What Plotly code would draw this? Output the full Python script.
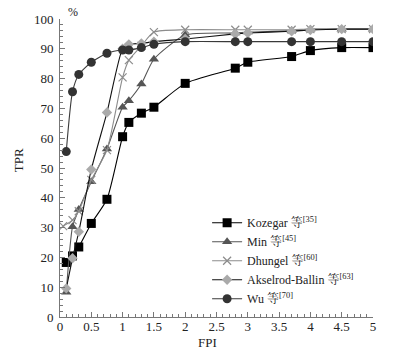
import plotly.graph_objects as go

fpi = [0.1, 0.2, 0.3, 0.5, 0.75, 1.0, 1.1, 1.3, 1.5, 2.0, 2.8, 3.0, 3.7, 4.0, 4.5, 5.0]
fpi_dhungel = [0.05, 0.2, 0.3, 0.5, 0.75, 1.0, 1.1, 1.3, 1.5, 2.0, 2.8, 3.0, 3.7, 4.0, 4.5, 5.0]

kozegar = [18.3, 20.5, 23.5, 31.4, 39.5, 60.5, 65.3, 68.4, 70.4, 78.4, 83.5, 85.5, 87.4, 89.4, 90.4, 90.4]
min_ = [8.3, 30.3, 36.1, 45.4, 56.4, 70.4, 72.6, 78.2, 86.5, 94.6, 95.3, 95.6, 96.1, 96.6, 96.6, 96.6]
dhungel = [30.5, 32.5, 35.5, 46.0, 56.0, 80.4, 86.2, 91.0, 95.6, 96.4, 96.4, 96.4, 96.4, 96.6, 96.6, 96.6]
akselrod = [9.6, 19.7, 28.6, 49.5, 68.6, 90.0, 91.5, 91.8, 92.4, 93.3, 95.0, 95.3, 95.9, 96.3, 96.6, 96.6]
wu = [55.5, 75.6, 81.4, 85.5, 88.5, 89.6, 89.6, 90.4, 91.5, 92.4, 92.4, 92.4, 92.4, 92.4, 92.4, 92.4]

names = ["Kozegar 等<sup>[35]</sup>", "Min 等<sup>[45]</sup>", "Dhungel 等<sup>[60]</sup>",
         "Akselrod-Ballin 等<sup>[63]</sup>", "Wu 等<sup>[70]</sup>"]

FONT = "Liberation Serif, Noto Serif CJK SC, Noto Sans CJK SC, serif"

fig = go.Figure()
specs = [
    (fpi, kozegar, names[0], "#000000", "#000000", "square", 9),
    (fpi, min_, names[1], "#555555", "#555555", "triangle-up", 9),
    (fpi_dhungel, dhungel, names[2], "#8c8c8c", "#8c8c8c", "x-thin", 8),
    (fpi, akselrod, names[3], "#111111", "#aaaaaa", "diamond", 8),
    (fpi, wu, names[4], "#3a3a3a", "#333333", "circle", 9),
]
for xs, ys, nm, lc, mc, sym, sz in specs:
    marker = dict(symbol=sym, size=sz, color=mc)
    if sym == "x-thin":
        marker["line"] = dict(color=mc, width=1.2)
    fig.add_trace(go.Scatter(
        x=xs, y=ys, name=nm, mode="lines+markers",
        line=dict(color=lc, width=1.1, shape="spline", smoothing=0.6),
        marker=marker,
    ))

axis_common = dict(
    showline=True, linecolor="#777777", linewidth=1,
    ticks="inside", ticklen=5, tickcolor="#777777",
    showgrid=False, zeroline=False,
    tickfont=dict(family=FONT, size=13, color="#222222"),
)
fig.update_xaxes(range=[0, 5], dtick=0.5, tick0=0, ticklabelstandoff=-3,
                 minor=dict(dtick=0.1, ticks="inside", ticklen=3, tickcolor="#777777"),
                 **axis_common)
fig.update_yaxes(range=[0, 100], dtick=10, tick0=0, ticklabelstandoff=3,
                 minor=dict(dtick=2, ticks="inside", ticklen=3, tickcolor="#777777"),
                 **axis_common)

fig.update_layout(
    width=396, height=351,
    margin=dict(l=60, r=23, t=19, b=34),
    paper_bgcolor="white", plot_bgcolor="white",
    font=dict(family=FONT, size=13, color="#222222"),
    legend=dict(x=0.47, y=0.365, xanchor="left", yanchor="top",
                bgcolor="rgba(0,0,0,0)", itemwidth=30,
                font=dict(family=FONT, size=12, color="#222222"),
                tracegroupgap=0),
    annotations=[
        dict(text="%", x=0.04, y=1.025, xref="paper", yref="paper", showarrow=False,
             xanchor="center", yanchor="middle",
             font=dict(family=FONT, size=12, color="#222222")),
        dict(text="TPR", x=-0.13, y=0.527, xref="paper", yref="paper", showarrow=False,
             xanchor="center", yanchor="middle",
             textangle=-90, font=dict(family=FONT, size=13, color="#222222")),
        dict(text="FPI", x=0.47, y=-0.084, xref="paper", yref="paper", showarrow=False,
             xanchor="center", yanchor="middle",
             font=dict(family=FONT, size=13, color="#222222")),
    ],
)

fig.write_html("out.html")
